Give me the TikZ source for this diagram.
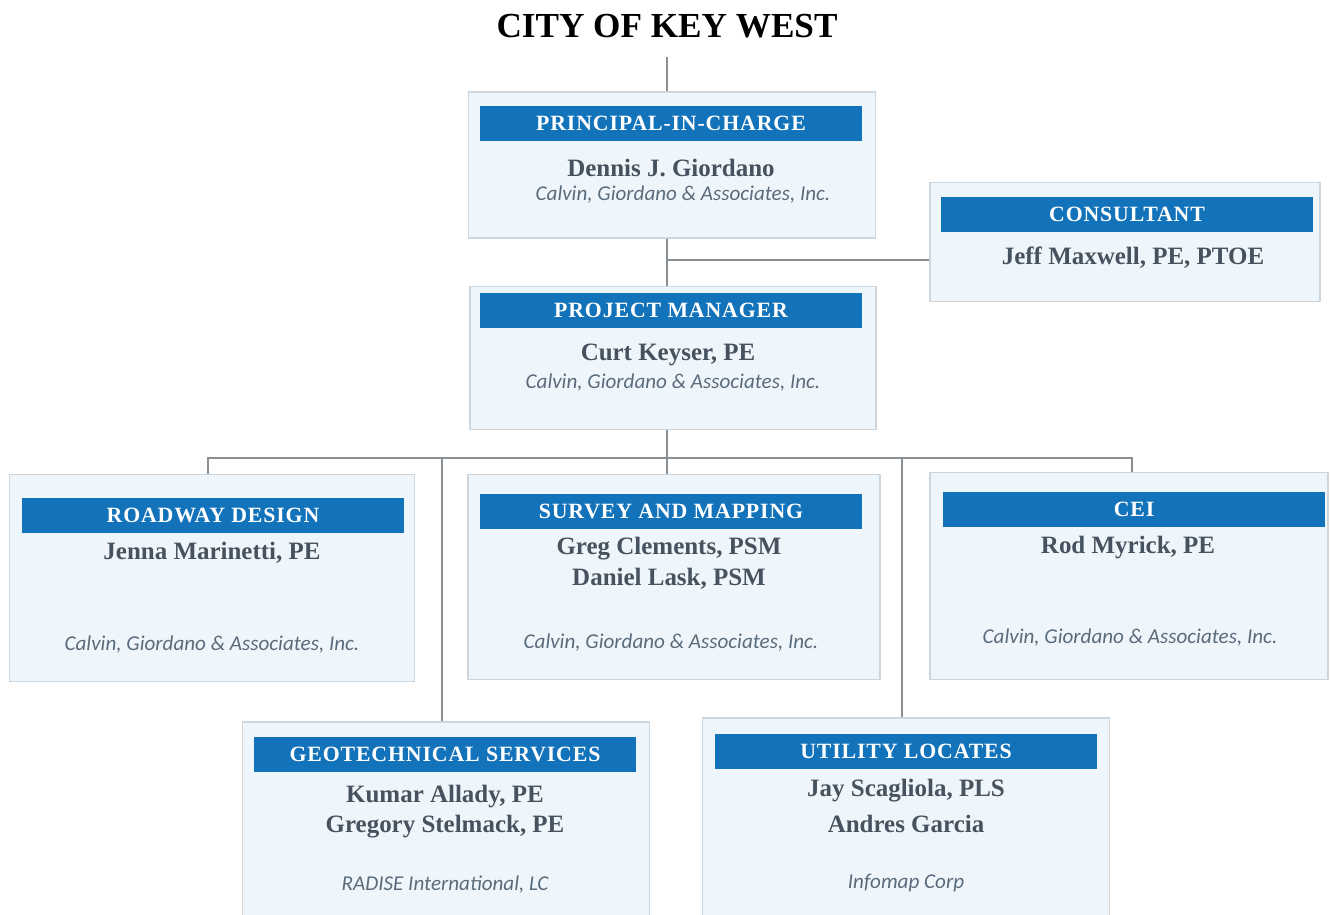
\documentclass[tikz,border=0pt]{standalone}
\usepackage{fontspec}
\setmainfont{Liberation Serif}
\newfontfamily\firmfamily{Carlito}
\newfontfamily\barfamily[LetterSpace=4]{Liberation Serif}
\usetikzlibrary{arrows.meta,positioning}
\definecolor{headblue}{HTML}{1272BA}
\definecolor{boxfill}{HTML}{EFF6FB}
\definecolor{boxline}{HTML}{CDD6DC}
\definecolor{nametext}{HTML}{46525E}
\definecolor{firmtext}{HTML}{5A6B7C}
\definecolor{tiegray}{HTML}{8A8F94}
\newcommand\hdfont{\barfamily\bfseries\fontsize{6.2}{7}\selectfont}
\newcommand\nmfont{\bfseries\fontsize{7.1}{8}\selectfont}
\newcommand\fmfont{\firmfamily\itshape\fontsize{6}{7}\selectfont}
\tikzset{
  unitbox/.style={draw=boxline, fill=boxfill, line width=0.4pt, inner sep=0pt},
  headbar/.style={fill=headblue, text=white, font=\hdfont, minimum width=3.82cm, minimum height=0.35cm, inner sep=0pt},
  who/.style={text=nametext, font=\nmfont, inner sep=0pt},
  firm/.style={text=firmtext, font=\fmfont, inner sep=0pt},
  tie/.style={draw=tiegray, line width=0.5pt}
}
\begin{document}
\begin{tikzpicture}[>=Stealth, x=0.01cm, y=-0.01cm]
        \useasboundingbox (0,0) rectangle (1331,914);
        \node (city) at (667,26) {\fontsize{10}{12}\selectfont\bfseries CITY OF KEY WEST};

        \node [unitbox, minimum width=4.07cm, minimum height=1.46cm] (pic) at (672,165) {};
        \node [headbar] (pichead) at (671,123) {PRINCIPAL-IN-CHARGE};
        \node [who] (picname) at (671,168) {Dennis J. Giordano};
        \node [firm] (picfirm) at (683,195) {Calvin, Giordano \& Associates, Inc.};

        \node [unitbox, minimum width=3.90cm, minimum height=1.19cm] (con) at (1125,242) {};
        \node [headbar, minimum width=3.71cm] (conhead) at (1127,214) {CONSULTANT};
        \node [who] (conname) at (1133,258) {Jeff Maxwell, PE, PTOE};

        \node [unitbox, minimum width=4.06cm, minimum height=1.43cm] (pm) at (673,358) {};
        \node [headbar] (pmhead) at (671,310) {PROJECT MANAGER};
        \node [who] (pmname) at (668,355) {Curt Keyser, PE};
        \node [firm] (pmfirm) at (673,383) {Calvin, Giordano \& Associates, Inc.};

        \node [unitbox, minimum width=4.05cm, minimum height=2.07cm] (road) at (212,578) {};
        \node [headbar] (roadhead) at (213,515) {ROADWAY DESIGN};
        \node [who] (roadname) at (212,553) {Jenna Marinetti, PE};
        \node [firm] (roadfirm) at (212,645) {Calvin, Giordano \& Associates, Inc.};

        \node [unitbox, minimum width=4.12cm, minimum height=2.05cm] (sur) at (674,577) {};
        \node [headbar] (surhead) at (671,511) {SURVEY AND MAPPING};
        \node [who] (surname) at (669,549) {Greg Clements, PSM};
        \node [who] (surname2) at (669,579) {Daniel Lask, PSM};
        \node [firm] (surfirm) at (671,643) {Calvin, Giordano \& Associates, Inc.};

        \node [unitbox, minimum width=3.98cm, minimum height=2.07cm] (cei) at (1129,576) {};
        \node [headbar] (ceihead) at (1134,509) {CEI};
        \node [who] (ceiname) at (1128,548) {Rod Myrick, PE};
        \node [firm] (ceifirm) at (1130,637) {Calvin, Giordano \& Associates, Inc.};

        \node [unitbox, minimum width=4.07cm, minimum height=1.96cm] (geo) at (446,820) {};
        \node [headbar] (geohead) at (445,754) {GEOTECHNICAL SERVICES};
        \node [who] (geoname) at (445,797) {Kumar Allady, PE};
        \node [who] (geoname2) at (445,827) {Gregory Stelmack, PE};
        \node [firm] (geofirm) at (445,884) {RADISE International, LC};

        \node [unitbox, minimum width=4.07cm, minimum height=2.00cm] (util) at (906,818) {};
        \node [headbar] (utilhead) at (906,751) {UTILITY LOCATES};
        \node [who] (utilname) at (906,791) {Jay Scagliola, PLS};
        \node [who] (utilname2) at (906,824) {Andres Garcia};
        \node [firm] (utilfirm) at (906,883) {Infomap Corp};

        \coordinate (tee) at (667,260);
        \coordinate (bus) at (667,458);
        \draw [tie] ([yshift=-2pt]city.south) -- (pic.north -| bus);
        \draw [tie] (pic.south -| bus) -- (pm.north -| bus);
        \draw [tie] (tee) -- (tee -| con.west);
        \draw [tie] (pm.south -| bus) -- (bus);
        \draw [tie] ([xshift=-1.1pt]road.north) |- (bus) -| ([xshift=0.9pt]cei.north);
        \draw [tie] (sur.north -| bus) -- (bus);
        \draw [tie] ([xshift=-1.2pt]geo.north) -- ([xshift=-1.2pt]geo.north |- bus);
        \draw [tie] ([xshift=-1.2pt]util.north) -- ([xshift=-1.2pt]util.north |- bus);
    \end{tikzpicture}
\end{document}
